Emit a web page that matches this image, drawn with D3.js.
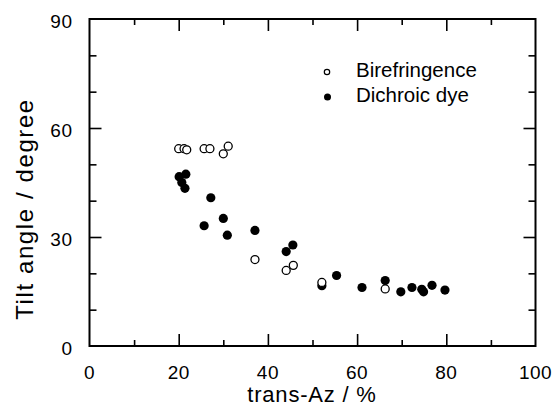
<!DOCTYPE html>
<html>
<head>
<meta charset="utf-8">
<script src="https://cdn.jsdelivr.net/npm/d3@7"></script>
<style>
	body{ margin:0; background:#fff; }
	svg text{ font-family:"Liberation Sans", Arial, sans-serif; fill:#000; }
</style>
</head>
<body>
<div id="chart"></div>
<script>
// trans-Az content (%) and tilt angle (degree)
var biroX = [20.0, 21.2, 21.8, 25.7, 27.0, 30.0, 31.1, 37.1, 44.1, 45.7, 52.1, 66.3];
var biroY = [54.3, 54.3, 54.0, 54.3, 54.3, 52.9, 55.0, 23.8, 20.8, 22.2, 17.5, 15.7];

var dyeX = [20.1, 20.7, 21.6, 21.4, 25.7, 27.2, 30.0, 30.9, 37.1, 44.1, 45.6, 52.1, 55.4, 61.1, 66.3, 69.8, 72.3, 74.5, 74.9, 76.8, 79.7];
var dyeY = [46.6, 45.0, 47.3, 43.4, 33.1, 40.8, 35.1, 30.5, 31.8, 26.0, 27.8, 16.6, 19.4, 16.1, 18.0, 14.9, 16.1, 15.6, 14.9, 16.7, 15.4];

var xTicks = [0, 20, 40, 60, 80, 100];
var yTicks = [0, 30, 60, 90];
var legendLabels = ["Birefringence", "Dichroic dye"];

var W = 553, H = 408;
var margin = {top: 19, right: 17.5, bottom: 62, left: 89.5},
	width = W - margin.left - margin.right,
	height = H - margin.top - margin.bottom;

var svg = d3.select("#chart")
	.append("svg")
	.attr("width", W)
	.attr("height", H);

var g = svg.append("g")
	.attr("transform", "translate(" + margin.left + "," + margin.top + ")");

var x = d3.scaleLinear().domain([0, 100]).range([0, width]);
var y = d3.scaleLinear().domain([0, 90]).range([height, 0]);

// inward ticks on all four sides
function tickSide(axisFn, scale, vals, len, transform){
	var a = g.append("g")
		.attr("transform", transform)
		.call(axisFn(scale).tickValues(vals).tickSizeInner(-len).tickSizeOuter(0).tickFormat(""));
	a.select(".domain").remove();
	a.selectAll("line").attr("stroke", "#000").attr("stroke-width", 1.6);
}
var xMinor = d3.range(10, 100, 20), yMinor = [10, 20, 40, 50, 70, 80];
tickSide(d3.axisBottom, x, xTicks.slice(1, -1), 12, "translate(0," + height + ")");
tickSide(d3.axisBottom, x, xMinor, 6, "translate(0," + height + ")");
tickSide(d3.axisTop, x, xTicks.slice(1, -1), 12, "translate(0,0)");
tickSide(d3.axisTop, x, xMinor, 6, "translate(0,0)");
tickSide(d3.axisLeft, y, yTicks.slice(1, -1), 12, "translate(0,0)");
tickSide(d3.axisLeft, y, yMinor, 7, "translate(0,0)");
tickSide(d3.axisRight, y, yTicks.slice(1, -1), 12, "translate(" + width + ",0)");
tickSide(d3.axisRight, y, yMinor, 7, "translate(" + width + ",0)");

// frame
g.append("rect")
	.attr("width", width).attr("height", height)
	.attr("fill", "none").attr("stroke", "#000").attr("stroke-width", 2);

// tick labels
g.selectAll(".xl").data(xTicks).enter().append("text")
	.attr("x", function(d){ return x(d); })
	.attr("y", height + 33)
	.attr("text-anchor", "middle")
	.style("font-size", "19px")
	.style("letter-spacing", "0.5px")
	.text(function(d){ return d; });

g.selectAll(".yl").data(yTicks).enter().append("text")
	.attr("x", -17)
	.attr("y", function(d){ return y(d) + 9; })
	.attr("text-anchor", "end")
	.style("font-size", "19px")
	.style("letter-spacing", "0.5px")
	.text(function(d){ return d; });

// axis titles
svg.append("text")
	.attr("x", 312).attr("y", 402)
	.attr("text-anchor", "middle")
	.style("font-size", "22px")
	.style("letter-spacing", "0.8px")
	.text("trans-Az / %");

svg.append("text")
	.attr("transform", "translate(33,209) rotate(-90)")
	.attr("text-anchor", "middle")
	.style("font-size", "24px")
	.style("letter-spacing", "1.6px")
	.text("Tilt angle / degree");

// points
var biro = d3.range(biroX.length).map(function(i){ return [biroX[i], biroY[i]]; });
var dye = d3.range(dyeX.length).map(function(i){ return [dyeX[i], dyeY[i]]; });

g.append("g").selectAll("circle").data(dye).enter().append("circle")
	.attr("cx", function(d){ return x(d[0]); })
	.attr("cy", function(d){ return y(d[1]); })
	.attr("r", 4.6)
	.attr("fill", "#000");

g.append("g").selectAll("circle").data(biro).enter().append("circle")
	.attr("cx", function(d){ return x(d[0]); })
	.attr("cy", function(d){ return y(d[1]); })
	.attr("r", 4)
	.attr("fill", "#fff")
	.attr("stroke", "#000")
	.attr("stroke-width", 1.3);

// legend
var leg = svg.append("g");
leg.append("circle").attr("cx", 327).attr("cy", 72).attr("r", 2.7)
	.attr("fill", "#fff").attr("stroke", "#000").attr("stroke-width", 1.2);
leg.append("circle").attr("cx", 327.5).attr("cy", 97).attr("r", 3.5).attr("fill", "#000");
leg.selectAll("text").data(legendLabels).enter().append("text")
	.attr("x", 356)
	.attr("y", function(d, i){ return 77 + i * 24.5; })
	.style("font-size", "20.5px")
	.text(function(d){ return d; });
</script>
</body>
</html>
